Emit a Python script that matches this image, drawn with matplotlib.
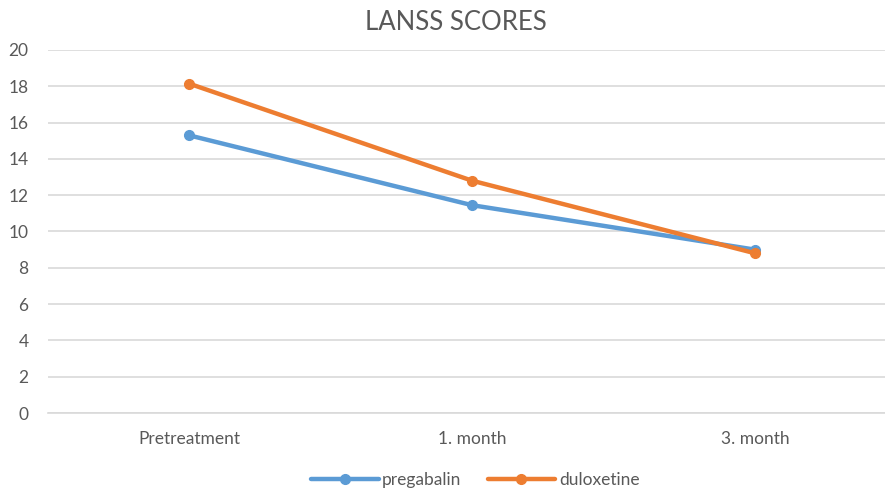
import matplotlib
matplotlib.use("Agg")
import matplotlib.pyplot as plt

categories = ["Pretreatment", "1. month", "3. month"]
pregabalin = [15.3, 11.45, 9.0]
duloxetine = [18.15, 12.8, 8.8]
yticks = [0, 2, 4, 6, 8, 10, 12, 14, 16, 18, 20]

plt.rcParams['font.family'] = ['Lato', 'DejaVu Sans']
text_color = "#595959"

fig = plt.figure(figsize=(8.85, 4.92), dpi=100)
ax = fig.add_axes([48/885, 1-413/492, 1-48/885, (413-50)/492])

x = list(range(len(categories)))
ax.plot(x, pregabalin, color="#5B9BD5", lw=3.2, marker="o", ms=7, label="pregabalin", solid_capstyle="round", zorder=3)
ax.plot(x, duloxetine, color="#ED7D31", lw=3.2, marker="o", ms=7, label="duloxetine", solid_capstyle="round", zorder=4)

ax.set_xlim(-0.498, 2.459)
ax.set_ylim(0, 20)
ax.set_yticks(yticks)
ax.set_xticks(x)
ax.set_xticklabels(categories)
ax.grid(axis="y", color="#d9d9d9", lw=1.2)
ax.set_axisbelow(True)
for s in ["top", "right", "left"]:
    ax.spines[s].set_visible(False)
ax.spines["bottom"].set_color("#d9d9d9")
ax.spines["bottom"].set_linewidth(1.2)
ax.tick_params(axis="both", length=0, colors=text_color, labelsize=12.5)
ax.tick_params(axis="y", pad=14)
ax.tick_params(axis="x", pad=13)

fig.text(0.515, 0.955, "LANSS SCORES", ha="center", va="center", fontsize=18.5, color=text_color)

leg = fig.legend(loc="center", bbox_to_anchor=(0.537, 0.025), ncol=2, frameon=False,
                 fontsize=12.5, handlelength=3.9, columnspacing=1.5, handletextpad=0.2)
for t in leg.get_texts():
    t.set_color(text_color)

fig.savefig("out.png", dpi=100)
